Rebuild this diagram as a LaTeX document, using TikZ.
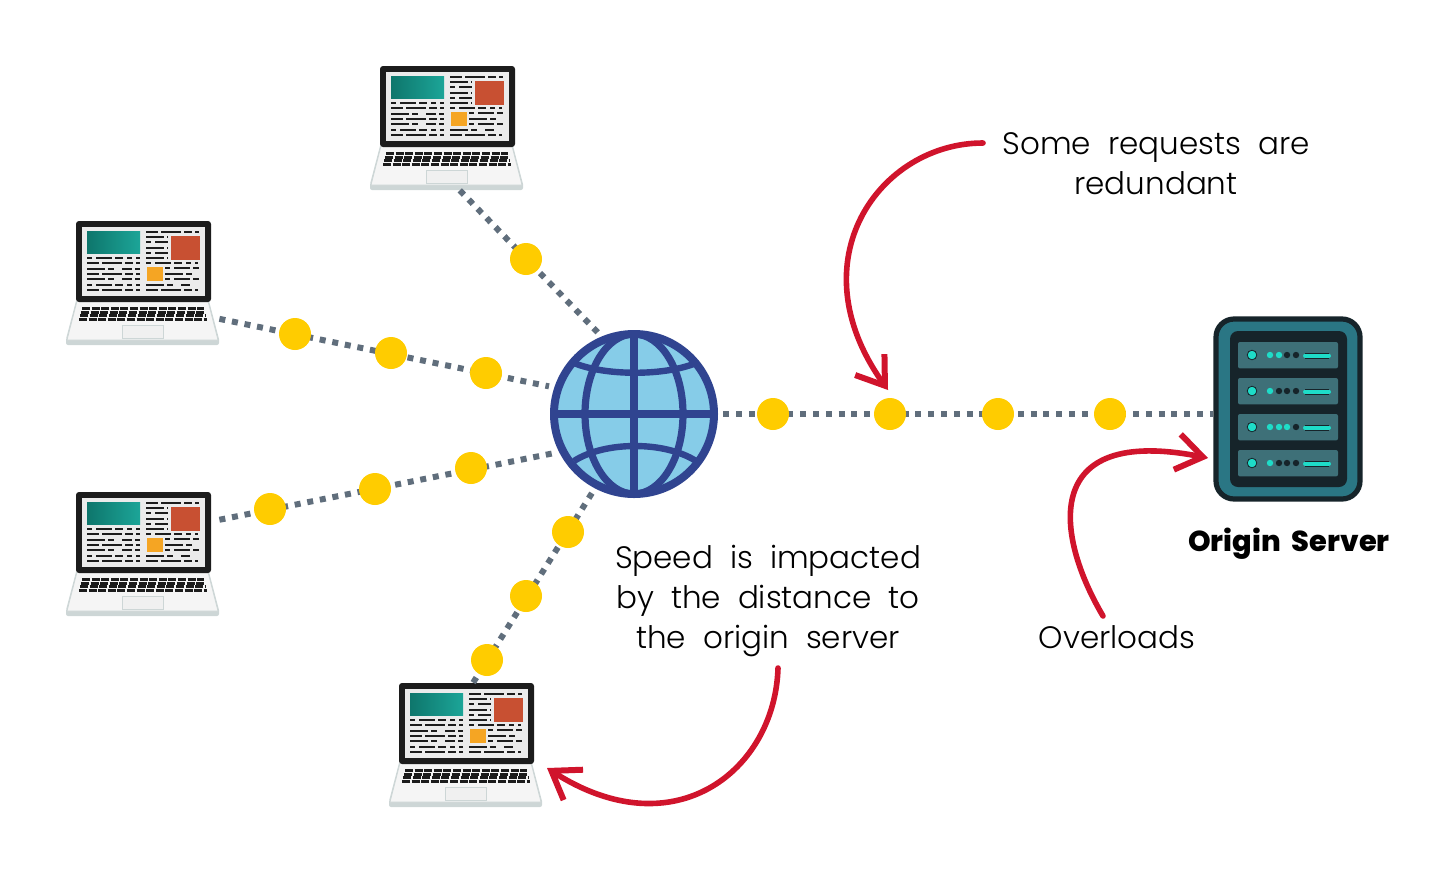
\documentclass[tikz,border=0pt]{standalone}
\usepackage{fontspec}
\setmainfont[UprightFont=* Light,BoldFont=* ExtraBold]{Poppins}
\usepackage{tikz}
\usetikzlibrary{arrows.meta, positioning}
\definecolor{LinkGrey}{RGB}{96, 110, 124}
\definecolor{DotYellow}{RGB}{255, 204, 0}
\definecolor{ArrowRed}{RGB}{208, 20, 44}
\definecolor{GlobeBlue}{RGB}{48, 68, 144}
\definecolor{GlobeSky}{RGB}{134, 204, 232}
\definecolor{ServerInk}{RGB}{22, 36, 42}
\definecolor{ServerTeal}{RGB}{42, 118, 132}
\definecolor{SlotTeal}{RGB}{62, 112, 120}
\definecolor{LedCyan}{RGB}{30, 220, 200}
\definecolor{ScreenTeal}{RGB}{14, 118, 108}
\definecolor{ScreenTealLight}{RGB}{28, 165, 152}
\definecolor{ScreenRed}{RGB}{200, 80, 50}
\definecolor{ScreenAmber}{RGB}{245, 165, 35}
\definecolor{BaseGrey}{RGB}{205, 214, 214}
\definecolor{ScreenInk}{RGB}{28, 28, 28}

\tikzset{
    link/.style={draw=LinkGrey, line width=3pt, dash pattern=on 3pt off 3.4pt},
    packet/.style={circle, fill=DotYellow, minimum size=16pt, inner sep=0pt},
    callout/.style={-{Straight Barb[length=13pt, width=18pt, line width=3pt]}, draw=ArrowRed, line width=2.8pt, line cap=round},
    note/.style={align=center, font=\fontsize{15.5}{20}\selectfont},
    rowA/.style={ScreenInk, line width=1.2pt, dash pattern=on 6pt off 1.5pt on 10pt off 1.5pt on 4pt off 1.5pt},
    rowB/.style={ScreenInk, line width=1.2pt, dash pattern=on 2.5pt off 2pt on 8pt off 1.5pt on 4pt off 2pt},
    rowC/.style={ScreenInk, line width=1.2pt, dash pattern=on 9pt off 1.5pt on 3pt off 4pt on 5pt off 1.5pt},
    laptop/.pic={
        \node [minimum width=76.5pt, minimum height=62pt, inner sep=0pt] (-box) at (38.25pt,-31pt) {};
        % base
        \fill [BaseGrey] (0,-59pt) -- (5pt,-40pt) -- (71.5pt,-40pt) -- (76.5pt,-59pt) [rounded corners=1pt] -- (76.5pt,-62pt) -- (0,-62pt) -- cycle;
        \fill [white!96!black, draw=BaseGrey, line width=.4pt] (.5pt,-59.5pt) -- (5.5pt,-40pt) -- (71pt,-40pt) -- (76pt,-59.5pt) -- cycle;
        % screen
        \fill [ScreenInk, rounded corners=1.5pt] (5pt,0) rectangle (72.5pt,-40.5pt);
        \fill [white!92!black] (8pt,-3pt) rectangle (69.5pt,-37.5pt);
        \fill [left color=ScreenTeal, right color=ScreenTealLight] (10.5pt,-5pt) rectangle (37pt,-16pt);
        \fill [ScreenRed] (52.5pt,-7.5pt) rectangle (67pt,-19.5pt);
        \fill [ScreenAmber] (40.5pt,-23pt) rectangle (48.5pt,-30pt);
        % text lines on the screen
        \foreach \yy/\rowstyle in {18.5/rowB, 21/rowA, 24/rowC, 26.5/rowA, 29/rowC, 32/rowB, 34.5/rowA} {
            \draw [\rowstyle] (10.5pt,-\yy pt) -- (37pt,-\yy pt);
        }
        \foreach \yy/\rowstyle in {8/rowC, 10.5/rowB, 13.5/rowC, 16/rowB, 18.5/rowC} {
            \draw [\rowstyle] (40pt,-\yy pt) -- (51pt,-\yy pt);
        }
        \foreach \yy/\rowstyle in {23.5/rowB, 26.5/rowC, 29/rowB} {
            \draw [\rowstyle] (49.5pt,-\yy pt) -- (66.5pt,-\yy pt);
        }
        \foreach \yy/\rowstyle/\xb in {5.5/rowA/66.5, 21/rowB/66, 32/rowC/62, 34.5/rowA/66} {
            \draw [\rowstyle] (40pt,-\yy pt) -- (\xb pt,-\yy pt);
        }
        % keys
        \foreach \yy/\xa/\xb in {-43.8/8/69, -45.6/7.5/69.5, -47.4/7/70, -49.2/6.5/70.5} {
            \draw [ScreenInk, line width=1.4pt, dash pattern=on 4pt off .8pt] (\xa pt,\yy pt) -- (\xb pt,\yy pt);
        }
        % trackpad
        \draw [BaseGrey, fill=white!94!black, line width=.4pt] (28pt,-52pt) rectangle (48.5pt,-58.5pt);
    },
    ledrow/.pic={
        \fill [SlotTeal, rounded corners=1pt] (0,0) rectangle (50pt,-13.2pt);
        \fill [LedCyan, draw=ServerInk, line width=.4pt] (7pt,-6.5pt) circle (2.4pt);
        \draw [LedCyan, line width=2pt, line cap=round, preaction={draw=ServerInk, line width=3pt}] (33.5pt,-6.8pt) -- (45.5pt,-6.8pt);
    },
}

\begin{document}
\begin{tikzpicture}[x=0.5pt, y=-0.5pt]
\useasboundingbox (0,0) rectangle (1456,874);

% laptops
\pic (lapTop) at (370,66) {laptop};
\pic (lapUpper) at (66,221) {laptop};
\pic (lapLower) at (66,492) {laptop};
\pic (lapBottom) at (389,683) {laptop};

% globe
\node (globe) [circle, minimum size=89pt, inner sep=0pt] at (634,414) {};
\fill [GlobeSky, draw=GlobeBlue, line width=4pt] (634,414) circle (40pt);
\draw [GlobeBlue, line width=3.8pt] (634,334) -- (634,494);
\draw [GlobeBlue, line width=3.8pt] (554,414) -- (714,414);
\draw [GlobeBlue, line width=3.6pt] (634,414) ellipse (24.5pt and 40pt);
\draw [GlobeBlue, line width=3.2pt] (574,363) .. controls (605,376) and (665,376) .. (696,363);
\draw [GlobeBlue, line width=3.2pt] (574,461) .. controls (605,441) and (665,441) .. (696,461);

% server
\node (server) [draw=ServerInk, fill=ServerTeal, line width=2.6pt, rounded corners=9pt, minimum width=72pt, minimum height=90pt, inner sep=0pt] at (1288,409) {};
\fill [ServerInk, rounded corners=4pt] (1230,331) rectangle (1347,487);
\pic at (1238,342) {ledrow};
\pic at (1238,378) {ledrow};
\pic at (1238,414) {ledrow};
\pic at (1238,450) {ledrow};
\foreach \yy/\lit in {355/2, 391/1, 427/3, 463/1} {
    \foreach \n/\xx in {1/1270, 2/1279, 3/1287, 4/1296} {
        \ifnum\n>\lit\def\ledcol{ServerInk}\else\def\ledcol{LedCyan}\fi
        \fill [\ledcol] (\xx,\yy) circle (1.6pt);
    }
}

% links
\draw [link] (lapTop-box.-78) -- (globe.114);
\draw [link] (lapUpper-box.-25) -- (globe.162);
\draw [link] (lapLower-box.24) -- (globe.206);
\draw [link] (lapBottom-box.83) -- (globe.-118);
\draw [link] (globe.0) -- (globe.0 -| server.west);

% packets
\node (pktA) [packet] at (526,259) {};
\node (pktB) [packet] at (295,334) {};
\node (pktC) [packet] at (391,353) {};
\node (pktD) [packet] at (486,373) {};
\node (pktE) [packet] at (270,509) {};
\node (pktF) [packet] at (375,489) {};
\node (pktG) [packet] at (471,468) {};
\node (pktH) [packet] at (568,532) {};
\node (pktI) [packet] at (526,596) {};
\node (pktJ) [packet] at (487,660) {};
\node (pktK) [packet] at (773,414) {};
\node (pktL) [packet] at (890,414) {};
\node (pktM) [packet] at (998,414) {};
\node (pktN) [packet] at (1110,414) {};

% notes
\node (noteReq) [note] at (1156,164) {Some\ \ requests\ \ are\\redundant};
\node (noteSpeed) [note] at (768,601) {Speed\ \ is\ \ impacted\\by\ \ the\ \ distance\ \ to\\the\ \ origin\ \ server};
\node (noteLoad) [note] at (1117,637) {Overloads};
\node (noteOrigin) [note, font=\fontsize{14.4}{20}\selectfont\bfseries] at (1289,544) {Origin\ \ Server};

% callouts
\coordinate (reqTail) at (983,143);
\coordinate (speedTail) at (778,668);
\coordinate (loadTail) at (1103,616);
\coordinate (reqTip) at (888,390);
\coordinate (speedTip) at (547,768);
\coordinate (loadTip) at (1208,458);
\draw [callout] (reqTail) .. controls (880,143) and (795,260) .. (reqTip);
\draw [callout] (speedTail) .. controls (775,770) and (675,850) .. (speedTip);
\draw [callout] (loadTail) .. controls (1055,535) and (1040,425) .. (loadTip);
\end{tikzpicture}
\end{document}
